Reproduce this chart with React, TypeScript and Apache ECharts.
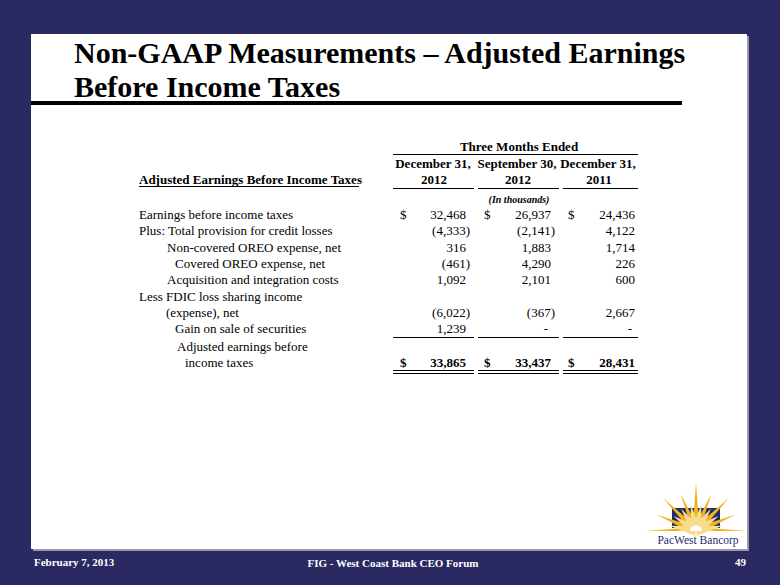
import React, { useEffect, useRef } from "react";
import * as echarts from "echarts";

// ---- Data ----
const titleLines = ["Non-GAAP Measurements \u2013 Adjusted Earnings", "Before Income Taxes"];
const tableTitle = "Adjusted Earnings Before Income Taxes";
const periodGroup = "Three Months Ended";
const columnHeads = ["December 31,", "September 30,", "December 31,"];
const columnYears = ["2012", "2012", "2011"];
const unitsNote = "(In thousands)";
const rowLabels = [
  "Earnings before income taxes",
  "Plus: Total provision for credit losses",
  "Non-covered OREO expense, net",
  "Covered OREO expense, net",
  "Acquisition and integration costs",
  "Less FDIC loss sharing income",
  "(expense), net",
  "Gain on sale of securities",
  "Adjusted earnings before",
  "income taxes",
];
const dec2012 = [32468, -4333, 316, -461, 1092, null, -6022, 1239, null, 33865];
const sep2012 = [26937, -2141, 1883, 4290, 2101, null, -367, 0, null, 33437];
const dec2011 = [24436, 4122, 1714, 226, 600, null, 2667, 0, null, 28431];
const dollarRows = [0, 9];
const totalRow = 9;
const footerLeft = "February 7, 2013";
const footerCenter = "FIG - West Coast Bank CEO Forum";
const pageNumber = "49";
const logoText = "PacWest Bancorp";

// ---- Layout (positions / styles) ----
const NAVY = "#2a2961";
const SERIF = "'Liberation Serif', 'Times New Roman', serif";
const rowY = [214, 230.5, 247, 263.5, 279.5, 296, 312, 328, 346, 362];
const rowX = [139, 139, 167, 175, 167, 139, 166, 175, 177, 185];
const colCenter = [433, 517, 598];
const colDollarX = [400, 484, 568];
const colRight = [466, 551, 635];
const colSeg = [[393, 474], [478, 559], [563, 638]];

function fmt(v: number): string {
  return Math.abs(v).toLocaleString("en-US");
}

function txt(x: number, y: number, text: string, o: any = {}) {
  return {
    type: "text",
    x,
    y,
    z: 10,
    style: {
      text,
      fill: o.fill || "#000",
      fontSize: o.fontSize || 13,
      fontFamily: SERIF,
      fontWeight: o.bold ? "bold" : "normal",
      fontStyle: o.italic ? "italic" : "normal",
      align: o.align || "left",
      verticalAlign: "middle",
    },
  };
}

function ln(x1: number, y1: number, x2: number, y2: number, w = 1, c = "#000") {
  return { type: "line", z: 10, shape: { x1, y1, x2, y2 }, style: { stroke: c, lineWidth: w } };
}

function buildElements() {
  const els: any[] = [];
  // panel shadow + panel
  els.push({ type: "rect", z: 1, shape: { x: 33, y: 36, width: 716, height: 515 }, style: { fill: "#9a9aa6" } });
  els.push({ type: "rect", z: 2, shape: { x: 31, y: 34, width: 716, height: 515 }, style: { fill: "#ffffff" } });
  // title
  els.push(txt(74, 52.5, titleLines[0], { fontSize: 30, bold: true }));
  els.push(txt(74, 86.5, titleLines[1], { fontSize: 30, bold: true }));
  els.push({ type: "rect", z: 10, shape: { x: 31, y: 101, width: 651, height: 4 }, style: { fill: "#000" } });

  // table header
  els.push(txt(519, 146.5, periodGroup, { bold: true, align: "center" }));
  els.push(ln(393, 154.5, 638, 154.5));
  columnHeads.forEach((h, i) => {
    els.push(txt(colCenter[i], 163.5, h, { bold: true, align: "center" }));
    els.push(txt(colCenter[i] + 1, 179.5, columnYears[i], { bold: true, align: "center" }));
    els.push(ln(colSeg[i][0], 188.5, colSeg[i][1], 188.5));
  });
  els.push(txt(139, 179.5, tableTitle, { bold: true }));
  els.push(ln(139, 186.5, 359, 186.5));
  els.push(txt(519, 199, unitsNote, { bold: true, italic: true, fontSize: 10, align: "center" }));

  // rows
  const cols = [dec2012, sep2012, dec2011];
  rowLabels.forEach((label, r) => {
    els.push(txt(rowX[r], rowY[r], label));
    const bold = r === totalRow;
    cols.forEach((col, c) => {
      const v = col[r];
      if (v === null || v === undefined) return;
      if (dollarRows.includes(r)) els.push(txt(colDollarX[c], rowY[r], "$", { bold }));
      if (v === 0) {
        els.push(txt(colRight[c] - 3, rowY[r], "-", { bold, align: "right" }));
      } else if (v < 0) {
        els.push(txt(colRight[c] + 4, rowY[r], "(" + fmt(v) + ")", { bold, align: "right" }));
      } else {
        els.push(txt(colRight[c], rowY[r], fmt(v), { bold, align: "right" }));
      }
    });
  });
  colSeg.forEach(([a, b]) => {
    els.push(ln(a, 337.5, b, 337.5));
    els.push(ln(a, 370.5, b, 370.5));
    els.push(ln(a, 373.5, b, 373.5));
  });

  // logo
  const cx = 696, cy = 531;
  els.push({ type: "rect", z: 5, shape: { x: 672, y: 508, width: 48, height: 20 }, style: { fill: "#1d2a6e" } });
  const goldAngles = [0, 22.5, 45, 67.5, 90, 112.5, 135, 157.5, 180];
  const goldLen = [50, 43, 47, 40, 49, 40, 47, 43, 50];
  goldAngles.forEach((a, i) => {
    const rad = (a * Math.PI) / 180;
    const dx = Math.cos(rad), dy = -Math.sin(rad);
    const px = -dy, py = dx;
    const w = 3.5;
    const tip = [cx + dx * goldLen[i], cy + dy * goldLen[i]];
    let pts: number[][];
    if (a === 0 || a === 180) pts = [[cx, cy - 4], [cx, cy], tip];
    else pts = [[cx + px * w, cy + py * w], [cx - px * w, cy - py * w], tip];
    els.push({ type: "polygon", z: 6, shape: { points: pts }, style: { fill: "#f2b41c" } });
  });
  for (let k = 0; k < 8; k++) {
    const a = 11.25 + 22.5 * k;
    const rad = (a * Math.PI) / 180;
    const dx = Math.cos(rad), dy = -Math.sin(rad);
    const px = -dy, py = dx;
    const w = 5;
    const L = 27;
    const pts = [[cx + px * w, cy + py * w], [cx - px * w, cy - py * w], [cx + dx * L, cy + dy * L]];
    els.push({ type: "polygon", z: 7, shape: { points: pts }, style: { fill: "#f8dc8c" } });
  }
  els.push({ type: "sector", z: 8, shape: { cx, cy, r: 14, r0: 0, startAngle: Math.PI, endAngle: 2 * Math.PI }, style: { fill: "#f8dc8c" } });
  els.push({ type: "sector", z: 9, shape: { cx, cy, r: 6, r0: 0, startAngle: Math.PI, endAngle: 2 * Math.PI }, style: { fill: "#ffffff" } });
  els.push(txt(698, 540, logoText, { fontSize: 11.5, fill: "#1d2a6e", align: "center" }));

  // footer
  els.push(txt(34, 562, footerLeft, { fontSize: 11, bold: true, fill: "#ffffff" }));
  els.push(txt(393, 563, footerCenter, { fontSize: 11, bold: true, fill: "#ffffff", align: "center" }));
  els.push(txt(746, 562, pageNumber, { fontSize: 11, bold: true, fill: "#ffffff", align: "right" }));
  return els;
}

export default function App() {
  const ref = useRef<HTMLDivElement>(null);
  useEffect(() => {
    if (!ref.current) return;
    const chart = echarts.init(ref.current, undefined, { renderer: "svg" });
    chart.setOption({
      animation: false,
      backgroundColor: NAVY,
      graphic: { elements: buildElements() },
    });
    return () => chart.dispose();
  }, []);
  return (
    <div
      ref={ref}
      style={{ position: "fixed", left: 0, top: 0, width: 780, height: 585 }}
    />
  );
}
